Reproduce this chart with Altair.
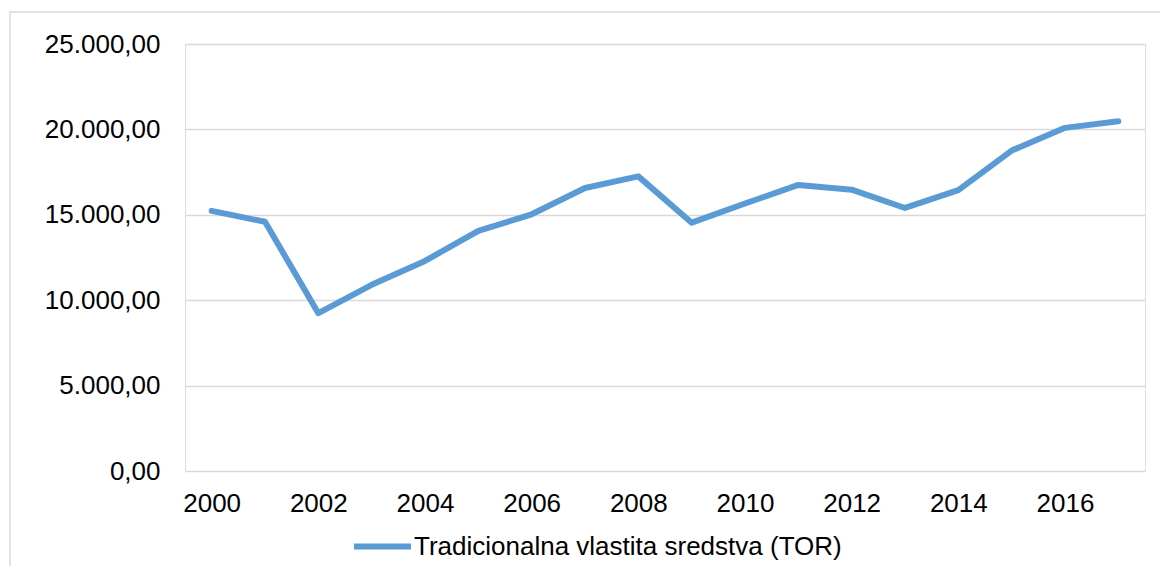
import altair as alt
import pandas as pd

years = list(range(2000, 2018))
values = [15230, 14590, 9240, 10900, 12300, 14060, 15030, 16570, 17250,
          14540, 15660, 16750, 16470, 15400, 16440, 18760, 20090, 20480]
series_name = "Tradicionalna vlastita sredstva (TOR)"
tick_years = list(range(2000, 2017, 2))
y_ticks = [0, 5000, 10000, 15000, 20000, 25000]

df = pd.DataFrame({"year": years, "value": values,
                   "series": [series_name] * len(years)})

FONT = "Liberation Sans"
FS = 26

line = alt.Chart(df).mark_line(
    strokeWidth=6, strokeCap="round", strokeJoin="round"
).encode(
    x=alt.X("year:O",
            scale=alt.Scale(type="point", padding=0.5),
            axis=alt.Axis(values=tick_years, title=None, labelAngle=0,
                          ticks=False, domain=False, grid=False,
                          labelFontSize=FS, labelPadding=19,
                          labelColor="#000000", labelFont=FONT)),
    y=alt.Y("value:Q",
            scale=alt.Scale(domain=[0, 25000]),
            axis=alt.Axis(values=y_ticks, title=None, ticks=False,
                          domain=False, gridColor="#D9D9D9", gridWidth=1.3,
                          labelExpr="replace(format(datum.value, ',.0f'), ',', '.') + ',00'",
                          labelFontSize=FS, labelPadding=25,
                          labelColor="#000000", labelFont=FONT)),
    color=alt.Color("series:N",
                    scale=alt.Scale(range=["#5B9BD5"]),
                    legend=alt.Legend(title=None, orient="none",
                                      legendX=166, legendY=471,
                                      symbolType="stroke", symbolSize=3249,
                                      symbolStrokeWidth=6, labelFontSize=FS,
                                      labelOffset=0, padding=0, labelLimit=0,
                                      labelFont=FONT, labelColor="#000000",
                                      direction="horizontal")),
)

frame = alt.Chart(pd.DataFrame({"a": [0]})).mark_rect(
    fillOpacity=0, stroke="#D9D9D9", strokeWidth=1.5
).encode(
    x=alt.value(-175), x2=alt.value(3000),
    y=alt.value(-32), y2=alt.value(2000),
)

chart = alt.layer(frame, line).properties(
    width=960, height=427,
    autosize=alt.AutoSizeParams(type="none"),
    padding={"left": 177, "top": 36, "right": 15, "bottom": 95},
).configure_view(strokeWidth=0).configure(font=FONT)

chart.save("out.html", embed_options={"renderer": "svg", "actions": False})
